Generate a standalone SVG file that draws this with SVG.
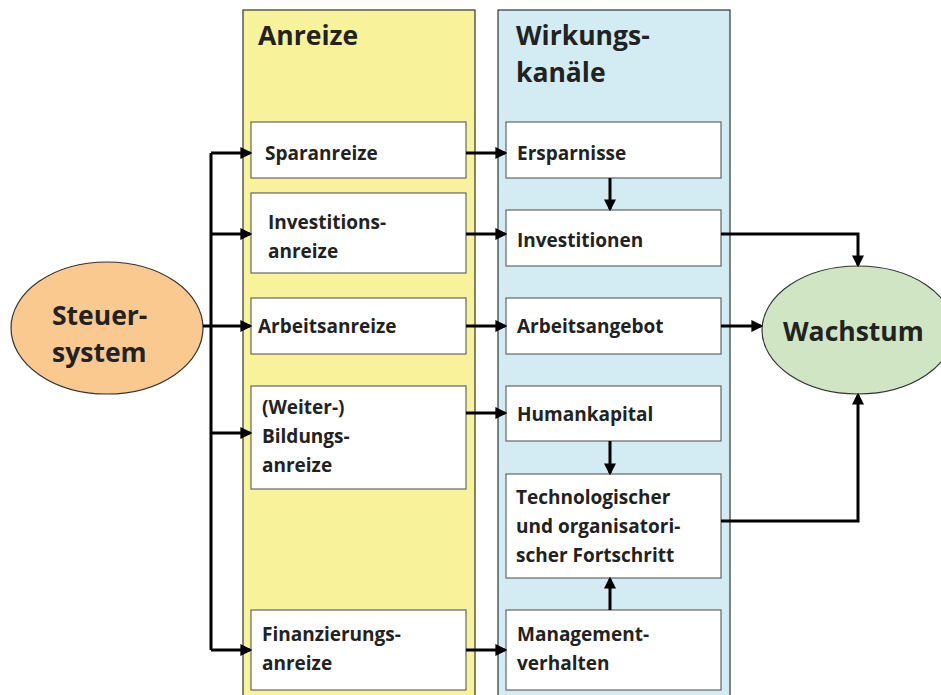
<svg xmlns="http://www.w3.org/2000/svg" width="941" height="695" viewBox="0 0 941 695">
<style>
text{font-family:"Open Sans","Liberation Sans",sans-serif;font-weight:bold;fill:#222}
.b{font-size:19px}
.h{font-size:26.5px}
.box{fill:#fff;stroke:#666;stroke-width:1.2}
.c{fill:none;stroke:#000;stroke-width:3}
</style>
<defs>
<marker id="a" markerWidth="4" markerHeight="4" refX="3.2" refY="2" orient="auto" markerUnits="strokeWidth">
<path d="M0,0 L4,2 L0,4 Z" fill="#000"/>
</marker>
</defs>
<rect width="941" height="695" fill="#fff"/>
<g id="col-anreize">
<rect x="243" y="10" width="232" height="690" fill="#F8F29B" stroke="#333" stroke-width="1.2"/>
<text class="h" x="258" y="45">Anreize</text>
</g>
<g id="col-wirkung">
<rect x="498" y="10" width="232" height="690" fill="#D3EBF2" stroke="#333" stroke-width="1.2"/>
<text class="h" x="516" y="45">Wirkungs-</text>
<text class="h" x="516" y="82">kanäle</text>
</g>
<g id="steuer">
<ellipse cx="107" cy="328" rx="96" ry="66" fill="#FAC990" stroke="#333" stroke-width="1.2"/>
<text class="h" x="52" y="325">Steuer-</text>
<text class="h" x="52" y="362">system</text>
</g>
<g id="wachstum">
<ellipse cx="858" cy="330" rx="96" ry="64" fill="#CFE5C4" stroke="#333" stroke-width="1.2"/>
<text class="h" x="783" y="341">Wachstum</text>
</g>
<g id="sparanreize"><rect class="box" x="251" y="122" width="215" height="56"/><text class="b" x="265" y="160">Sparanreize</text></g>
<g id="investitionsanreize"><rect class="box" x="251" y="193" width="215" height="80"/><text class="b" x="268" y="229">Investitions-</text><text class="b" x="268" y="258">anreize</text></g>
<g id="arbeitsanreize"><rect class="box" x="251" y="298" width="215" height="56"/><text class="b" x="258" y="333">Arbeitsanreize</text></g>
<g id="bildungsanreize"><rect class="box" x="251" y="386" width="215" height="103"/><text class="b" x="262" y="414">(Weiter-)</text><text class="b" x="262" y="443">Bildungs-</text><text class="b" x="262" y="472">anreize</text></g>
<g id="finanzierungsanreize"><rect class="box" x="251" y="610" width="215" height="80"/><text class="b" x="262" y="641">Finanzierungs-</text><text class="b" x="262" y="670">anreize</text></g>
<g id="ersparnisse"><rect class="box" x="506" y="122" width="215" height="56"/><text class="b" x="517" y="160">Ersparnisse</text></g>
<g id="investitionen"><rect class="box" x="506" y="210" width="215" height="56"/><text class="b" x="517" y="247">Investitionen</text></g>
<g id="arbeitsangebot"><rect class="box" x="506" y="298" width="215" height="56"/><text class="b" x="517" y="333">Arbeitsangebot</text></g>
<g id="humankapital"><rect class="box" x="506" y="386" width="215" height="55"/><text class="b" x="517" y="421">Humankapital</text></g>
<g id="technologie"><rect class="box" x="506" y="474" width="215" height="104"/><text class="b" x="516" y="504">Technologischer</text><text class="b" x="516" y="533">und organisatori-</text><text class="b" x="516" y="562">scher Fortschritt</text></g>
<g id="management"><rect class="box" x="506" y="610" width="215" height="80"/><text class="b" x="517" y="641">Management-</text><text class="b" x="517" y="670">verhalten</text></g>
<g id="connectors">
<path class="c" d="M211,153 V650"/>
<path class="c" d="M203,326 H250" marker-end="url(#a)"/>
<path class="c" d="M211,153 H250" marker-end="url(#a)"/>
<path class="c" d="M211,234 H250" marker-end="url(#a)"/>
<path class="c" d="M211,433 H250" marker-end="url(#a)"/>
<path class="c" d="M211,650 H250" marker-end="url(#a)"/>
<path class="c" d="M466,153 H505" marker-end="url(#a)"/>
<path class="c" d="M466,234 H505" marker-end="url(#a)"/>
<path class="c" d="M466,326 H505" marker-end="url(#a)"/>
<path class="c" d="M466,413 H505" marker-end="url(#a)"/>
<path class="c" d="M466,650 H505" marker-end="url(#a)"/>
<path class="c" d="M610,178 V209" marker-end="url(#a)"/>
<path class="c" d="M610,441 V473" marker-end="url(#a)"/>
<path class="c" d="M610,610 V579" marker-end="url(#a)"/>
<path class="c" d="M721,234 H858 V265" marker-end="url(#a)"/>
<path class="c" d="M721,326 H761" marker-end="url(#a)"/>
<path class="c" d="M721,521 H858 V395" marker-end="url(#a)"/>
</g>
</svg>
